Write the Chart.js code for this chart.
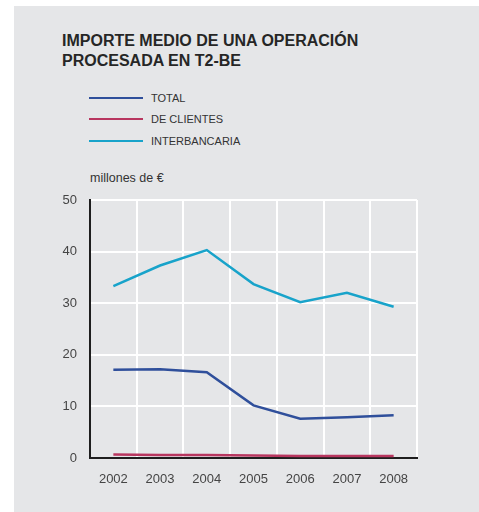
<!DOCTYPE html>
<html lang="es">
<head>
    <meta charset="UTF-8">
    <title>Importe medio de una operación procesada en T2-BE</title>
    <script src="https://cdn.jsdelivr.net/npm/chart.js"></script>
    <style>
        body {
            margin: 0;
            width: 479px;
            height: 512px;
            position: relative;
            overflow: hidden;
            background: #fff;
            font-family: "Liberation Sans", Arial, sans-serif;
        }
        #panel {
            position: absolute;
            left: 14px;
            top: 6px;
            width: 465px;
            height: 506px;
            background: #e5e6e8;
        }
        #title {
            position: absolute;
            left: 62px;
            top: 31px;
            font-size: 16px;
            font-weight: bold;
            line-height: 20px;
            color: #262626;
        }
        .legend-item {
            position: absolute;
            left: 89px;
            height: 14px;
            display: flex;
            align-items: center;
            font-size: 11px;
            color: #333;
        }
        .legend-item .swatch {
            width: 54px;
            height: 2.5px;
            margin-right: 8px;
        }
        #unit {
            position: absolute;
            left: 90px;
            top: 171px;
            font-size: 12.5px;
            color: #333;
        }
        canvas {
            position: absolute;
            left: 0;
            top: 0;
        }
    </style>
</head>
<body>

<div id="panel"></div>
<div id="title">IMPORTE MEDIO DE UNA OPERACIÓN<br>PROCESADA EN T2-BE</div>
<div id="legend"></div>
<div id="unit">millones de €</div>
<canvas id="chart" width="479" height="512"></canvas>

<script>
    // data (millones de €)
    const years = ['2002', '2003', '2004', '2005', '2006', '2007', '2008'];
    const total = [17.1, 17.2, 16.6, 10.2, 7.6, 7.9, 8.3];
    const clientes = [0.7, 0.6, 0.6, 0.5, 0.4, 0.4, 0.4];
    const interbancaria = [33.3, 37.3, 40.3, 33.7, 30.2, 32.0, 29.3];

    const seriesNames = ['TOTAL', 'DE CLIENTES', 'INTERBANCARIA'];
    const seriesColors = ['#2f4f9b', '#b8365f', '#18a3ca'];
    const seriesData = [total, clientes, interbancaria];

    const font = '"Liberation Sans", Arial, sans-serif';

    // html legend built from the series lists
    const legend = document.getElementById('legend');
    const legendTops = [91, 112, 134];
    seriesNames.forEach((name, i) => {
        const item = document.createElement('div');
        item.className = 'legend-item';
        item.style.top = legendTops[i] + 'px';
        item.innerHTML = '<span class="swatch" style="background:' + seriesColors[i] + '"></span>' + name;
        legend.appendChild(item);
    });

    const ctx = document.getElementById('chart').getContext('2d');
    new Chart(ctx, {
        type: 'line',
        data: {
            labels: years,
            datasets: seriesNames.map((name, i) => ({
                label: name,
                data: seriesData[i],
                borderColor: seriesColors[i],
                borderWidth: 2.5,
                pointRadius: 0,
                tension: 0,
                fill: false
            }))
        },
        options: {
            responsive: false,
            animation: false,
            layout: {
                padding: { top: 200, right: 62, bottom: 0, left: 0 }
            },
            plugins: {
                legend: { display: false },
                title: { display: false },
                tooltip: { enabled: false }
            },
            scales: {
                x: {
                    offset: true,
                    grid: {
                        offset: true,
                        drawTicks: false,
                        lineWidth: 2,
                        color: c => c.index === 0 ? 'rgba(0,0,0,0)' : '#ffffff'
                    },
                    border: { color: '#1e1e1e', width: 2 },
                    ticks: {
                        color: '#454545',
                        padding: 14,
                        font: { family: font, size: 13 }
                    },
                    afterFit: s => { s.height = 54; }
                },
                y: {
                    min: 0,
                    max: 50,
                    grid: {
                        drawTicks: false,
                        lineWidth: 2,
                        color: c => (c.tick && c.tick.value === 0) ? 'rgba(0,0,0,0)' : '#ffffff'
                    },
                    border: { color: '#1e1e1e', width: 2 },
                    ticks: {
                        stepSize: 10,
                        color: '#454545',
                        padding: 13,
                        font: { family: font, size: 13 }
                    },
                    afterFit: s => { s.width = 90; }
                }
            }
        }
    });
</script>

</body>
</html>
